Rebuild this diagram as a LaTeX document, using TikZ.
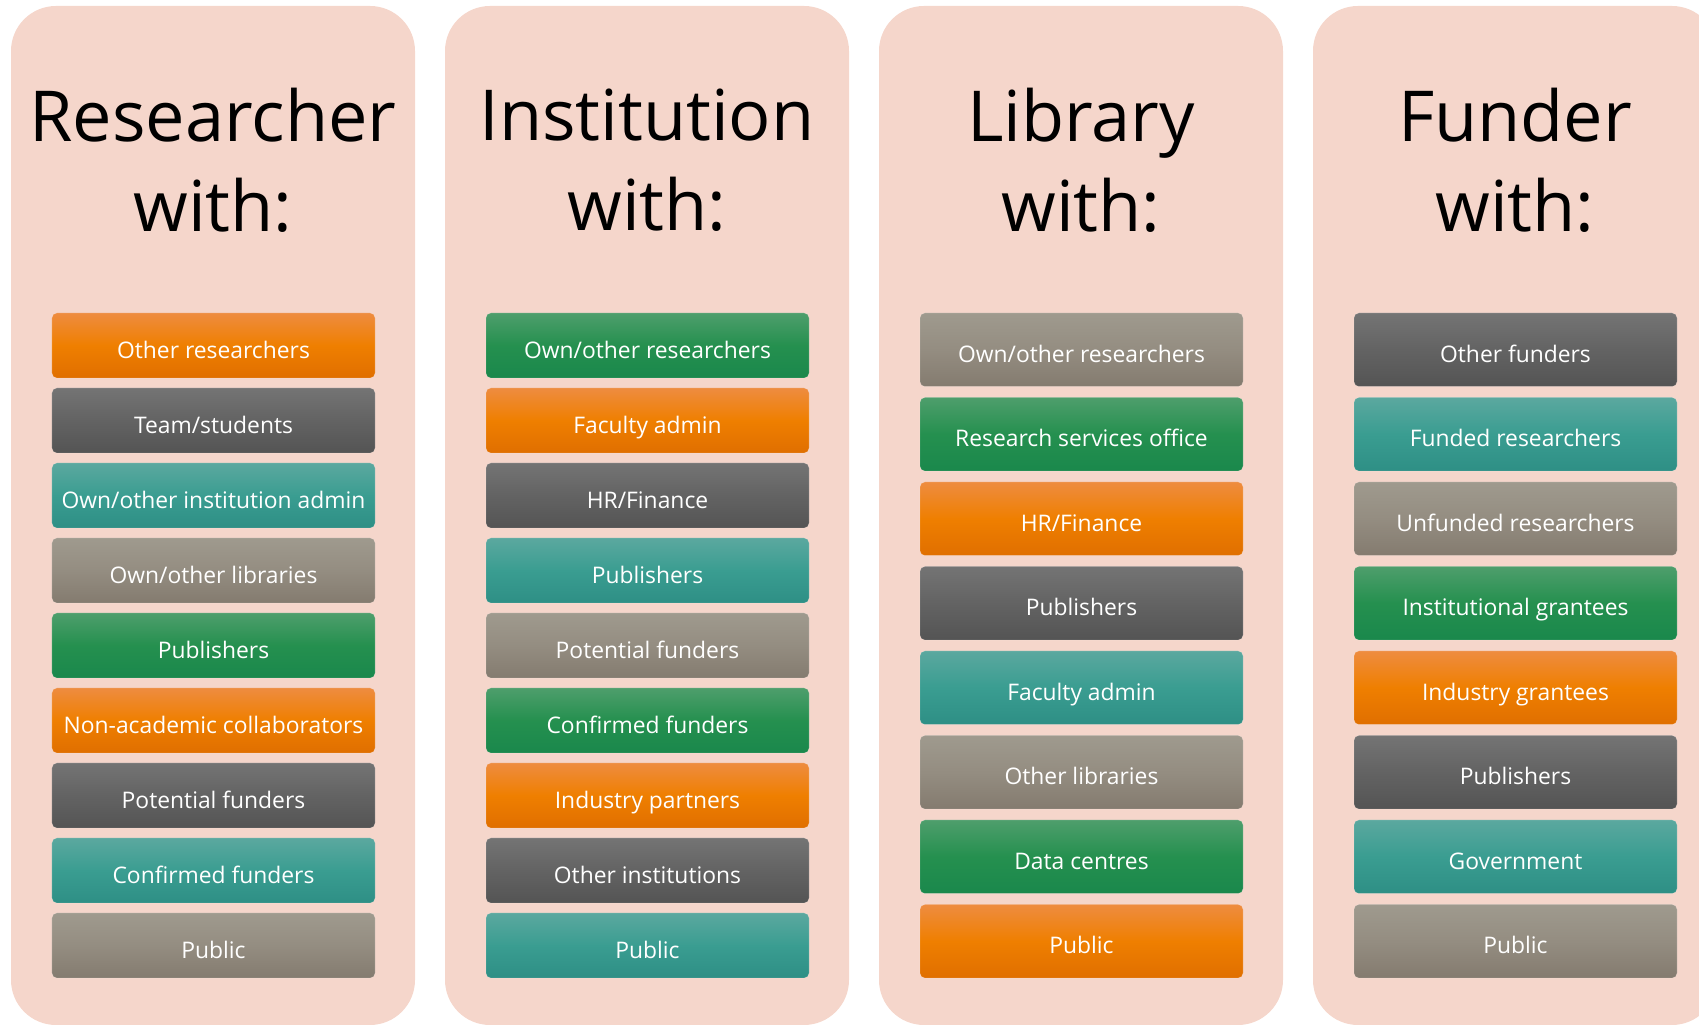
\documentclass[tikz,border=0pt]{standalone}
\usepackage{fontspec}
\setmainfont{Open Sans}
\usepackage{xcolor}
\usepackage{tikz}
\usetikzlibrary{positioning}

\definecolor{panelpink}{RGB}{245,214,203}
\definecolor{orangetop}{RGB}{238,140,64}
\definecolor{orangemid}{RGB}{239,127,0}
\definecolor{orangebot}{RGB}{224,111,0}
\definecolor{graytop}{RGB}{116,116,116}
\definecolor{graymid}{RGB}{99,99,99}
\definecolor{graybot}{RGB}{84,84,84}
\definecolor{tealtop}{RGB}{91,168,159}
\definecolor{tealmid}{RGB}{58,157,145}
\definecolor{tealbot}{RGB}{46,143,133}
\definecolor{taupetop}{RGB}{159,154,142}
\definecolor{taupemid}{RGB}{148,141,129}
\definecolor{taupebot}{RGB}{132,123,111}
\definecolor{greentop}{RGB}{78,158,108}
\definecolor{greenmid}{RGB}{37,144,79}
\definecolor{greenbot}{RGB}{26,136,76}

\begin{document}
\begin{tikzpicture}[
            node distance=0.1cm,
            panel/.style={rectangle, fill=panelpink, minimum width=4.04cm, minimum height=10.19cm, rounded corners=0.45cm, inner sep=0pt},
            title/.style={align=center, font=\fontsize{20}{25.6}\selectfont, text=black},
            box/.style={rectangle, rounded corners=0.05cm, minimum width=3.23cm, minimum height=0.65cm, inner sep=0pt, outer sep=0pt, text height=0.72em, text depth=0pt, text=white, font=\fontsize{6.5}{7.5}\selectfont, draw=white, draw opacity=0.15, line width=0.2pt},
            tall/.style={minimum height=0.735cm},
            orangebox/.style={box, top color=orangetop, bottom color=orangebot, middle color=orangemid},
            graybox/.style={box, top color=graytop, bottom color=graybot, middle color=graymid},
            tealbox/.style={box, top color=tealtop, bottom color=tealbot, middle color=tealmid},
            taupebox/.style={box, top color=taupetop, bottom color=taupebot, middle color=taupemid},
            greenbox/.style={box, top color=greentop, bottom color=greenbot, middle color=greenmid}
        ]
            \useasboundingbox (0,0) rectangle (16.99,-10.26);
            \clip (0,0) rectangle (16.99,-10.26);

            % background panels
            \node[panel] (pres) at (2.13,-5.155) {};
            \node[panel] (pinst) at (6.47,-5.155) {};
            \node[panel] (plib) at (10.81,-5.155) {};
            \node[panel] (pfund) at (15.15,-5.155) {};

            % titles
            \node[title] (tres) at (2.13,-1.6) {Researcher\\with:};
            \node[title] (tinst) at (6.47,-1.6) {Institution\\with:};
            \node[title] (tlib) at (10.81,-1.6) {Library\\with:};
            \node[title] (tfund) at (15.15,-1.6) {Funder\\with:};

            % researcher
            \node[orangebox] (resother) at (2.135,-3.455) {Other researchers};
            \node[graybox, below=of resother] (resteam) {Team/students};
            \node[tealbox, below=of resteam] (resadmin) {Own/other institution admin};
            \node[taupebox, below=of resadmin] (reslib) {Own/other libraries};
            \node[greenbox, below=of reslib] (respub) {Publishers};
            \node[orangebox, below=of respub] (resnonac) {Non-academic collaborators};
            \node[graybox, below=of resnonac] (respot) {Potential funders};
            \node[tealbox, below=of respot] (resconf) {Confirmed funders};
            \node[taupebox, below=of resconf] (respublic) {Public};

            % institution
            \node[greenbox] (instres) at (6.475,-3.455) {Own/other researchers};
            \node[orangebox, below=of instres] (instfac) {Faculty admin};
            \node[graybox, below=of instfac] (insthr) {HR/Finance};
            \node[tealbox, below=of insthr] (instpub) {Publishers};
            \node[taupebox, below=of instpub] (instpot) {Potential funders};
            \node[greenbox, below=of instpot] (instconf) {Confirmed funders};
            \node[orangebox, below=of instconf] (instind) {Industry partners};
            \node[graybox, below=of instind] (instother) {Other institutions};
            \node[tealbox, below=of instother] (instpublic) {Public};

            % library
            \node[taupebox, tall] (libres) at (10.815,-3.4975) {Own/other researchers};
            \node[greenbox, tall, below=0.11cm of libres] (libserv) {Research services office};
            \node[orangebox, tall, below=0.11cm of libserv] (libhr) {HR/Finance};
            \node[graybox, tall, below=0.11cm of libhr] (libpub) {Publishers};
            \node[tealbox, tall, below=0.11cm of libpub] (libfac) {Faculty admin};
            \node[taupebox, tall, below=0.11cm of libfac] (libother) {Other libraries};
            \node[greenbox, tall, below=0.11cm of libother] (libdata) {Data centres};
            \node[orangebox, tall, below=0.11cm of libdata] (libpublic) {Public};

            % funder
            \node[graybox, tall] (fundother) at (15.155,-3.4975) {Other funders};
            \node[tealbox, tall, below=0.11cm of fundother] (fundres) {Funded researchers};
            \node[taupebox, tall, below=0.11cm of fundres] (fundunf) {Unfunded researchers};
            \node[greenbox, tall, below=0.11cm of fundunf] (fundinst) {Institutional grantees};
            \node[orangebox, tall, below=0.11cm of fundinst] (fundind) {Industry grantees};
            \node[graybox, tall, below=0.11cm of fundind] (fundpub) {Publishers};
            \node[tealbox, tall, below=0.11cm of fundpub] (fundgov) {Government};
            \node[taupebox, tall, below=0.11cm of fundgov] (fundpublic) {Public};
        \end{tikzpicture}
\end{document}
